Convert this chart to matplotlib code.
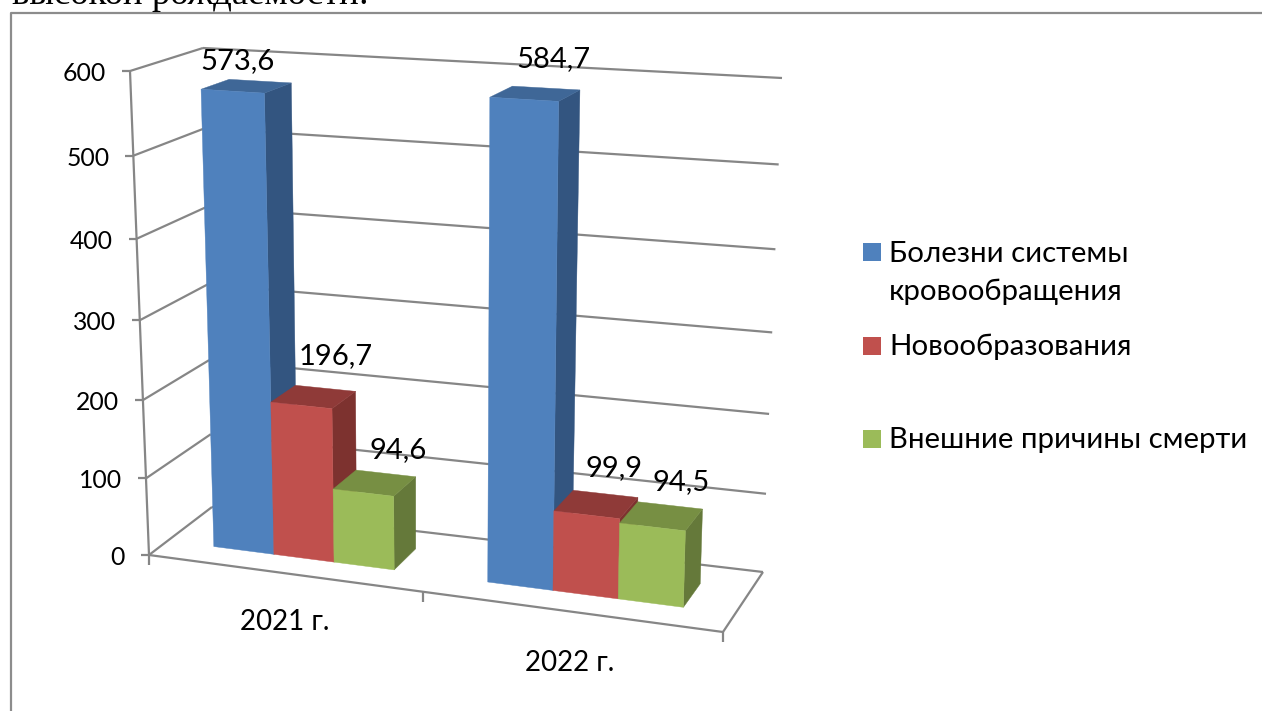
import matplotlib
matplotlib.use("Agg")
import matplotlib.pyplot as plt
from matplotlib.patches import Polygon, Rectangle
import numpy as np

categories = ["2021 г.", "2022 г."]
series_names = ["Болезни системы\nкровообращения", "Новообразования", "Внешние причины смерти"]
blood_values = [573.6, 584.7]
tumor_values = [196.7, 99.9]
external_values = [94.6, 94.5]
value_labels = [["573,6", "584,7"], ["196,7", "99,9"], ["94,6", "94,5"]]
value_ticks = [0, 100, 200, 300, 400, 500, 600]
page_text = "высокой рождаемости:"

# box corners in pixels: front/back, left/right, bottom/top
FLB = np.array([149, 555.0])
FRB = np.array([723, 632.0])
BLB = np.array([212, 507.0])
BRB = np.array([763, 572.0])
FLT = np.array([130, 71.0])
FRT = np.array([738, 108.0])
BLT = np.array([203, 48.0])
BRT = np.array([782, 78.0])
VMAX = 600.0

GRID = "#868686"
FACE = ["#4F81BD", "#C0504D", "#9BBB59"]
TOP = ["#3F6797", "#8F3A38", "#778F43"]
SIDE = ["#335580", "#7D322F", "#65793A"]

FRONT_W, BACK_W = 0.3, 0.7
BAR_START = [0.081, 0.564]
BAR_WIDTH = [0.106, 0.115]
LABEL_OFFSET = [[(5, -30), (29, -40)], [(34, -49), (27, -47)], [(35, -43), (29, -45)]]


def proj(u, v, w):
    # box position to pixels, vertical slightly stretched towards the top
    t = v / VMAX
    t = t * 0.94 + 0.06 * t * t
    bottom = (FLB * (1 - u) + FRB * u) * (1 - w) + (BLB * (1 - u) + BRB * u) * w
    top = (FLT * (1 - u) + FRT * u) * (1 - w) + (BLT * (1 - u) + BRT * u) * w
    return bottom * (1 - t) + top * t


def line(ax, a, b, lw=1.6):
    ax.plot([a[0], b[0]], [a[1], b[1]], color=GRID, lw=lw, solid_capstyle="butt", zorder=1)


def bar(ax, u0, u1, val, s):
    front = [proj(u0, 0, FRONT_W), proj(u1, 0, FRONT_W), proj(u1, val, FRONT_W), proj(u0, val, FRONT_W)]
    side = [proj(u1, 0, FRONT_W), proj(u1, 0, BACK_W), proj(u1, val, BACK_W), proj(u1, val, FRONT_W)]
    top = [proj(u0, val, FRONT_W), proj(u1, val, FRONT_W), proj(u1, val, BACK_W), proj(u0, val, BACK_W)]
    ax.add_patch(Polygon(side, closed=True, fc=SIDE[s], ec=SIDE[s], lw=0.3, zorder=2))
    ax.add_patch(Polygon(top, closed=True, fc=TOP[s], ec=TOP[s], lw=0.3, zorder=2))
    ax.add_patch(Polygon(front, closed=True, fc=FACE[s], ec=FACE[s], lw=0.3, zorder=2))
    return front[3], front[2]


def main():
    plt.rcParams["font.family"] = ["Lato", "Open Sans", "DejaVu Sans"]
    fig = plt.figure(figsize=(12.62, 7.11), dpi=100)
    ax = fig.add_axes([0, 0, 1, 1])
    ax.set_xlim(0, 1262)
    ax.set_ylim(711, 0)
    ax.axis("off")

    # page text and chart frame
    ax.text(12, 4, page_text, family="Liberation Serif", fontsize=26.5, va="baseline", ha="left", color="black")
    ax.plot([11, 11, 1262], [711, 13, 13], color="#8c8c8c", lw=1.6, zorder=1)

    # walls and floor
    for v in value_ticks:
        line(ax, proj(0, v, 0), proj(0, v, 1))
        line(ax, proj(0, v, 1), proj(1, v, 1))
        p = proj(0, v, 0)
        line(ax, p, p + np.array([-8, 0]))
        ax.text(p[0] - 24, p[1] + 2.5, str(v), fontsize=17.8, ha="right", va="center")
    line(ax, proj(0, 0, 0), proj(0, VMAX, 0))
    line(ax, proj(0, 0, 0), proj(1, 0, 0))
    line(ax, proj(1, 0, 0), proj(1, 0, 1))
    for u in [0, 0.478, 1]:
        p = proj(u, 0, 0)
        line(ax, p, p + np.array([0, 10]))

    # bars
    series = [blood_values, tumor_values, external_values]
    for c in range(len(categories)):
        for s, vals in enumerate(series):
            u0 = BAR_START[c] + s * BAR_WIDTH[c]
            left, right = bar(ax, u0, u0 + BAR_WIDTH[c], vals[c], s)
            mid = (left + right) / 2
            dx, dy = LABEL_OFFSET[s][c]
            ax.text(mid[0] + dx, mid[1] + dy, value_labels[s][c], fontsize=21, ha="center", va="center", zorder=5)

    # category labels
    for c, name in enumerate(categories):
        p = proj(0.25 + c * 0.5, 0, 0)
        ax.text(p[0] - 8 - c * 2, p[1] + 48 + c * 2, name, fontsize=20, ha="center", va="center")

    # legend
    legend_y = [252, 346, 439]
    text_y = [254, 347, 440]
    for s, name in enumerate(series_names):
        ax.add_patch(Rectangle((863, legend_y[s] - 9), 18, 18, fc=FACE[s], ec="none"))
        for k, part in enumerate(name.split("\n")):
            ax.text(889, text_y[s] + k * 38, part, fontsize=21.2, ha="left", va="center")

    fig.savefig("out.png", dpi=100)


if __name__ == "__main__":
    main()
